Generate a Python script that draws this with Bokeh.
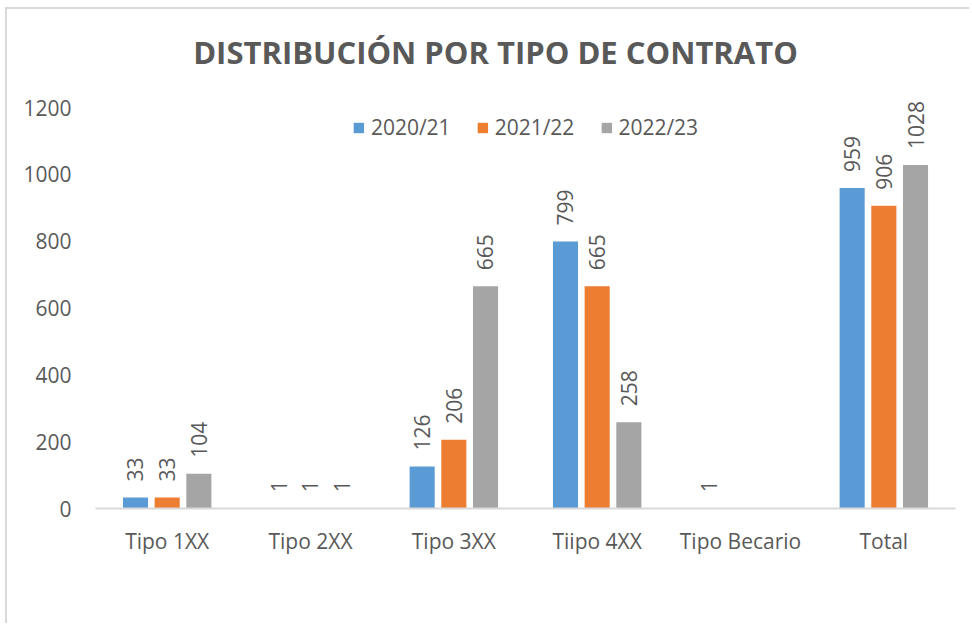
import math
from bokeh.plotting import figure
from bokeh.models import ColumnDataSource, FactorRange, Label, LabelSet, Legend, LegendItem, FixedTicker
from bokeh.transform import dodge
from bokeh.core.properties import value
from bokeh.embed import file_html
from bokeh.resources import INLINE

# ---- data ----
categories = ["Tipo 1XX", "Tipo 2XX", "Tipo 3XX", "Tiipo 4XX", "Tipo Becario", "Total"]
series_names = ["2020/21", "2021/22", "2022/23"]
v_2020_21 = [33, 1, 126, 799, 1, 959]
v_2021_22 = [33, 1, 206, 665, None, 906]
v_2022_23 = [104, 1, 665, 258, None, 1028]
y_ticks = [0, 200, 400, 600, 800, 1000, 1200]
y_axis_max = 1200
title_text = "DISTRIBUCIÓN POR TIPO DE CONTRATO"

colors = ["#5B9BD5", "#ED7D31", "#A5A5A5"]
text_color = "#595959"
FONT = "Open Sans"
FS = "21px"

# layout: the frame extends to the top of the canvas so that the title,
# legend and data labels (annotations) are not clipped; the visible
# 0..1200 axis spans 401 px as in the reference.
H, BOTTOM = 616, 117
frame_h = H - BOTTOM
axis_px = 401
y_top = y_axis_max * frame_h / axis_px

p = figure(
    width=964, height=H,
    x_range=FactorRange(*categories, range_padding=0),
    y_range=(0, y_top),
    output_backend="svg", toolbar_location=None,
    min_border_left=88, min_border_right=16,
    min_border_top=0, min_border_bottom=BOTTOM,
)
p.styles = {"margin-left": "5px", "margin-top": "7px",
            "border-left": "2px solid #D9D9D9", "border-top": "2px solid #D9D9D9"}
p.outline_line_color = None
p.xgrid.grid_line_color = None
p.ygrid.grid_line_color = None

offsets = [-0.221, 0.0, 0.221]
all_series = [v_2020_21, v_2021_22, v_2022_23]
legend_items = []
for name, vals, off, col in zip(series_names, all_series, offsets, colors):
    cats = [c for c, v in zip(categories, vals) if v is not None]
    vv = [v for v in vals if v is not None]
    src = ColumnDataSource(dict(cat=cats, val=vv, lab=[str(v) for v in vv]))
    r = p.vbar(x=dodge("cat", off, range=p.x_range), top="val", width=0.175,
               source=src, fill_color=col, line_color=None)
    labels = LabelSet(x=dodge("cat", off, range=p.x_range), y="val", text="lab", source=src,
                      angle=math.pi / 2, text_align="left", text_baseline="middle",
                      y_offset=16, text_font=value(FONT), text_font_size=FS,
                      text_color=text_color)
    p.add_layout(labels)
    legend_items.append(LegendItem(label=name, renderers=[r]))

legend = Legend(items=legend_items, location="top_center", orientation="horizontal",
                label_text_font=FONT, label_text_font_size=FS,
                label_text_color=text_color, glyph_width=13, glyph_height=13,
                label_standoff=6, spacing=25, padding=4, margin=104,
                border_line_color=None, background_fill_alpha=0)
p.add_layout(legend, "center")

p.yaxis.ticker = FixedTicker(ticks=y_ticks)
p.yaxis.axis_line_color = None
p.yaxis.major_tick_line_color = None
p.yaxis.minor_tick_line_color = None
p.yaxis.major_tick_out = 0
p.yaxis.major_tick_in = 0
p.yaxis.major_label_standoff = 24
p.yaxis.major_label_text_font = FONT
p.yaxis.major_label_text_font_size = FS
p.yaxis.major_label_text_color = text_color

p.xaxis.axis_line_color = "#D9D9D9"
p.xaxis.axis_line_width = 2
p.xaxis.major_tick_line_color = None
p.xaxis.minor_tick_line_color = None
p.xaxis.major_tick_out = 0
p.xaxis.major_tick_in = 0
p.xaxis.major_label_standoff = 18
p.xaxis.major_label_text_font = FONT
p.xaxis.major_label_text_font_size = FS
p.xaxis.major_label_text_color = text_color

title = Label(x=400, y=457, x_units="screen", y_units="screen", text=title_text,
              text_align="center", text_baseline="alphabetic",
              text_font=FONT, text_font_style="bold", text_font_size="31px",
              text_color=text_color)
p.add_layout(title)

open("out.html", "w").write(file_html(p, INLINE))
